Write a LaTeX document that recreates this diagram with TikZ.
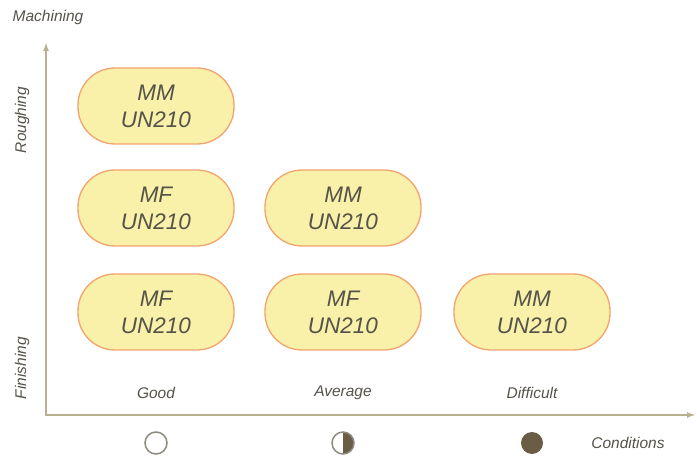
\documentclass[tikz,border=0pt]{standalone}
\usepackage{fontspec}
\setmainfont{Liberation Sans}
\usetikzlibrary{arrows.meta}
\definecolor{pillfill}{HTML}{F9F1A9}
\definecolor{pillborder}{HTML}{F2A36E}
\definecolor{txt}{HTML}{55524A}
\definecolor{axiscol}{HTML}{B8B190}
\definecolor{darkfill}{HTML}{6B5D45}
\definecolor{ringcol}{HTML}{8E8A80}
\begin{document}
\begin{tikzpicture}[x=1pt,y=-1pt,
  pill/.style={draw=pillborder, fill=pillfill, line width=1.3pt, rounded corners=37pt,
    minimum width=156pt, minimum height=76pt, inner sep=0pt, align=center,
    font=\fontsize{22.5}{27}\selectfont\itshape, text=txt},
  lbl/.style={font=\fontsize{15.5}{18}\selectfont\itshape, text=txt, inner sep=0pt},
  axis/.style={draw=axiscol, line width=2pt},
  cond/.style={circle, minimum size=22pt, inner sep=0pt}]
\useasboundingbox (0,0) rectangle (697,457);
% axes
\coordinate (ytop) at (46,42);
\coordinate (orig) at (46,415);
\coordinate (xend) at (696,415);
\draw[axis, {Latex[length=9pt,width=6pt]}-{Latex[length=9pt,width=6pt]}] (ytop) -- (orig) -- (xend);
% axis labels
\node[lbl] (mach) at (48,17) {Machining};
\node[lbl, rotate=90] (rough) at (22,120) {Roughing};
\node[lbl, rotate=90] (fin) at (22,368) {Finishing};
\node[lbl] (good) at (156,393) {Good};
\node[lbl] (avg) at (343,393) {Average};
\node[lbl] (diff) at (532,393) {Difficult};
\node[lbl] (condl) at (628,443) {Conditions};
% pills
\node[pill] (r1) at (156,106) {MM\\UN210};
\node[pill] (m1) at (156,208) {MF\\UN210};
\node[pill] (m2) at (343,208) {MM\\UN210};
\node[pill] (f1) at (156,312) {MF\\UN210};
\node[pill] (f2) at (343,312) {MF\\UN210};
\node[pill] (f3) at (532,312) {MM\\UN210};
% condition icons
\node[cond, draw=ringcol, line width=1.5pt, fill=white] (c1) at (156,443) {};
\begin{scope}
  \clip (343,430) rectangle (357,457);
  \fill[darkfill] (343,443) circle[radius=11pt];
\end{scope}
\node[cond, draw=ringcol, line width=1.5pt] (c2) at (343,443) {};
\node[cond, fill=darkfill] (c3) at (532,443) {};
\end{tikzpicture}
\end{document}
